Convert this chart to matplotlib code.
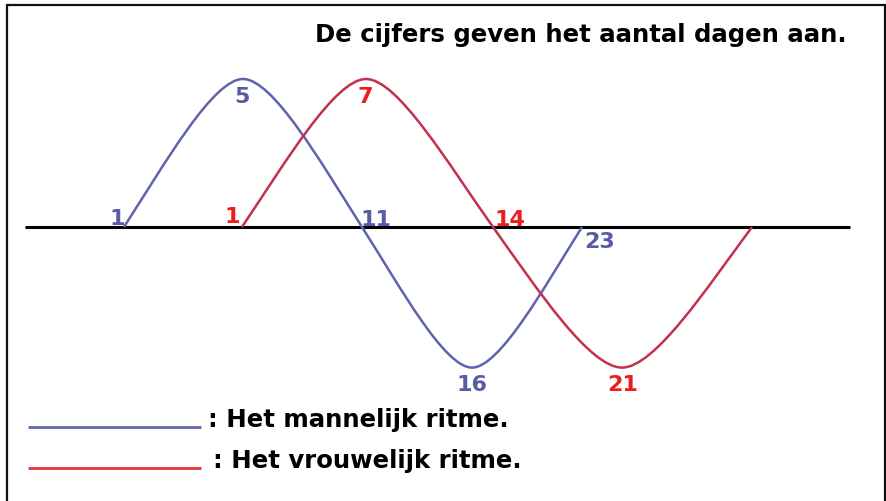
import matplotlib.pyplot as plt
from matplotlib.path import Path
from matplotlib.patches import PathPatch, Rectangle

# key points of each rhythm: start, top, crossing, bottom, end
blue_x = [124, 243, 362, 472, 582]
red_x = [242, 366, 493, 622, 752]
phase_y = [0, 1, 0, -0.95, 0]

# day numbers written at the key points
blue_days = ['1', '5', '11', '16', '23']
red_days = ['1', '7', '14', '21']

title = 'De cijfers geven het aantal dagen aan.'
legend_labels = [': Het mannelijk ritme.', ': Het vrouwelijk ritme.']

W, H = 887, 501
AXIS_PX = 227      # pixel row of the zero line
AMP_PX = 148       # pixels per unit of amplitude


def wave_path(xs, ys, steep=1.25, h_zero=0.35, h_peak=0.25):
    # smooth bezier pieces between the key points, flat at tops and bottoms
    n = len(xs)
    slopes = []
    for i in range(n):
        if ys[i] != 0:
            slopes.append(0.0)
        else:
            a, b = max(i - 1, 0), min(i + 1, n - 1)
            slopes.append(steep * (ys[b] - ys[a]) / (xs[b] - xs[a]))
    verts = [(xs[0], ys[0])]
    codes = [Path.MOVETO]
    for i in range(n - 1):
        x0, y0, x1, y1 = xs[i], ys[i], xs[i + 1], ys[i + 1]
        dx = x1 - x0
        h0 = (h_zero if y0 == 0 else h_peak) * dx
        h1 = (h_zero if y1 == 0 else h_peak) * dx
        c1 = (x0 + h0, y0 + slopes[i] * h0)
        c2 = (x1 - h1, y1 - slopes[i + 1] * h1)
        verts += [c1, c2, (x1, y1)]
        codes += [Path.CURVE4] * 3
    return Path(verts, codes)


fig = plt.figure(figsize=(W / 100, H / 100), dpi=100)
fig.patch.set_facecolor('white')
ax = fig.add_axes([0, 0, 1, 1])
ax.set_xlim(0, W)
ax.set_ylim((AXIS_PX - H) / AMP_PX, AXIS_PX / AMP_PX)
ax.set_axis_off()

# colors
blue_line = '#5f63ad'
red_line = '#c3304c'
blue_txt = '#585ca4'
red_txt = '#ee1c1c'

# zero line
ax.plot([25, 850], [0, 0], color='black', lw=2.2, solid_capstyle='butt', zorder=1)

# the two rhythms
ax.add_patch(PathPatch(wave_path(blue_x, phase_y), fill=False, ec=blue_line, lw=1.8, zorder=2))
ax.add_patch(PathPatch(wave_path(red_x, phase_y), fill=False, ec=red_line, lw=1.8, zorder=3))

# day numbers (offsets in pixels from each key point)
blue_off = [(-7, 2), (-1, -24), (14, 1), (0, -23), (18, -21)]
red_off = [(-10, 4), (-1, -24), (17, 1), (1, -23)]
digit_font = dict(fontsize=16, fontweight='bold', family='DejaVu Sans',
                  ha='center', va='baseline', textcoords='offset pixels', zorder=4)
for lab, x, y, off in zip(blue_days, blue_x, phase_y, blue_off):
    ax.annotate(lab, (x, y), xytext=off, color=blue_txt, **digit_font)
for lab, x, y, off in zip(red_days, red_x, phase_y, red_off):
    ax.annotate(lab, (x, y), xytext=off, color=red_txt, **digit_font)

# title
ax.text(315 / W, 1 - 42 / H, title, transform=ax.transAxes, fontsize=17.6,
        fontweight='bold', family='DejaVu Sans', ha='left', va='baseline')

# legend
leg_colors = ['#6468ae', '#e5343c']
leg_rows = [427, 468]
leg_text_x = [208, 213]
for lab, c, row, tx in zip(legend_labels, leg_colors, leg_rows, leg_text_x):
    ax.plot([28 / W, 201 / W], [1 - row / H, 1 - row / H], transform=ax.transAxes,
            color=c, lw=2.0, solid_capstyle='butt')
    ax.text(tx / W, 1 - row / H, lab, transform=ax.transAxes, fontsize=17.6,
            fontweight='bold', family='DejaVu Sans', ha='left', va='baseline')

# frame around the picture
fig.patches.append(Rectangle((7 / W, -0.05), (885 - 7) / W, 1.05 - 5 / H,
                             transform=fig.transFigure, fill=False,
                             ec='#111111', lw=1.6))

fig.savefig('out.png', dpi=100, facecolor='white')
